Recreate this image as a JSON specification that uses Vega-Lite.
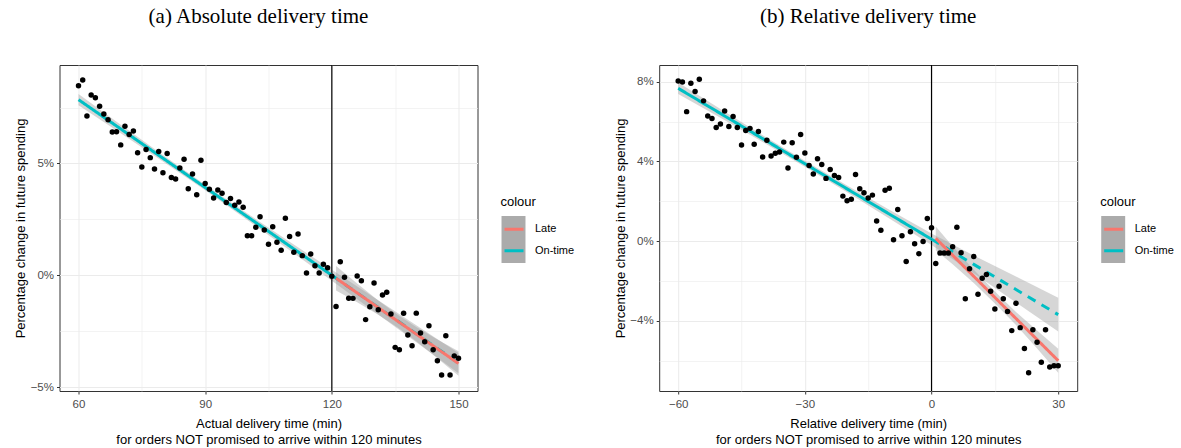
{
  "$schema": "https://vega.github.io/schema/vega-lite/v6.json",
  "padding": {"left": 13.5, "top": 5, "right": 0, "bottom": 0},
  "bounds": "flush",
  "spacing": 181.7,
  "datasets": {
    "ptsA": [
      {"x":60,"y":8.47},{"x":61,"y":8.73},{"x":62,"y":7.12},{"x":63,"y":8.06},{"x":64,"y":7.94},{"x":65,"y":7.56},{"x":66,"y":7.21},{"x":67,"y":6.95},{"x":68,"y":6.41},{"x":69,"y":6.42},
      {"x":70,"y":5.83},{"x":71,"y":6.66},{"x":72,"y":6.29},{"x":73,"y":6.45},{"x":74,"y":5.48},{"x":75,"y":4.84},{"x":76,"y":5.62},{"x":77,"y":5.26},{"x":78,"y":4.75},{"x":79,"y":5.53},
      {"x":80,"y":4.58},{"x":81,"y":5.44},{"x":82,"y":4.37},{"x":83,"y":4.31},{"x":84,"y":4.80},{"x":85,"y":5.19},{"x":86,"y":3.87},{"x":87,"y":4.53},{"x":88,"y":3.60},{"x":89,"y":5.14},
      {"x":90,"y":4.10},{"x":91,"y":3.85},{"x":92,"y":3.46},{"x":93,"y":3.81},{"x":94,"y":3.67},{"x":95,"y":3.25},{"x":96,"y":3.43},{"x":97,"y":3.13},{"x":98,"y":3.28},{"x":99,"y":3.04},
      {"x":100,"y":1.77},{"x":101,"y":1.77},{"x":102,"y":2.15},{"x":103,"y":2.62},{"x":104,"y":2.03},{"x":105,"y":1.39},{"x":106,"y":2.17},{"x":107,"y":1.48},{"x":108,"y":1.12},{"x":109,"y":2.55},
      {"x":110,"y":1.74},{"x":111,"y":1.03},{"x":112,"y":1.85},{"x":113,"y":0.88},{"x":114,"y":0.10},{"x":115,"y":0.95},{"x":116,"y":0.43},{"x":117,"y":0.10},{"x":118,"y":0.49},{"x":119,"y":0.34},
      {"x":120,"y":-0.04},{"x":121,"y":-1.39},{"x":122,"y":0.61},{"x":123,"y":-0.09},{"x":124,"y":-1.02},{"x":125,"y":-1.03},{"x":126,"y":-0.03},{"x":127,"y":-0.24},{"x":128,"y":-1.98},{"x":129,"y":-1.40},
      {"x":130,"y":-0.34},{"x":131,"y":-1.54},{"x":132,"y":-0.88},{"x":133,"y":-0.76},{"x":134,"y":-1.73},{"x":135,"y":-3.22},{"x":136,"y":-3.33},{"x":137,"y":-1.70},{"x":138,"y":-2.67},{"x":139,"y":-3.15},
      {"x":140,"y":-1.69},{"x":141,"y":-2.58},{"x":142,"y":-2.97},{"x":143,"y":-2.25},{"x":144,"y":-3.33},{"x":145,"y":-3.82},{"x":146,"y":-4.45},{"x":147,"y":-2.70},{"x":148,"y":-4.45},{"x":149,"y":-3.60},
      {"x":150,"y":-3.71}
    ],
    "fitsA": [
      {"x":60,"c":7.85,"lo":7.60,"hi":8.10,"fit":"On-time","type":"solid","grp":"on"},
      {"x":70,"c":6.542,"lo":6.352,"hi":6.732,"fit":"On-time","type":"solid","grp":"on"},
      {"x":80,"c":5.234,"lo":5.089,"hi":5.379,"fit":"On-time","type":"solid","grp":"on"},
      {"x":90,"c":3.926,"lo":3.799,"hi":4.053,"fit":"On-time","type":"solid","grp":"on"},
      {"x":100,"c":2.618,"lo":2.473,"hi":2.763,"fit":"On-time","type":"solid","grp":"on"},
      {"x":110,"c":1.31,"lo":1.12,"hi":1.50,"fit":"On-time","type":"solid","grp":"on"},
      {"x":120,"c":0.002,"lo":-0.248,"hi":0.252,"fit":"On-time","type":"solid","grp":"on"},
      {"x":120,"c":0.002,"lo":-0.248,"hi":0.252,"fit":"On-time","type":"dashed","grp":"ext"},
      {"x":130,"c":-1.306,"lo":-1.616,"hi":-0.996,"fit":"On-time","type":"dashed","grp":"ext"},
      {"x":140,"c":-2.614,"lo":-2.994,"hi":-2.234,"fit":"On-time","type":"dashed","grp":"ext"},
      {"x":150,"c":-3.922,"lo":-4.372,"hi":-3.472,"fit":"On-time","type":"dashed","grp":"ext"},
      {"x":121,"c":-0.13,"lo":-0.68,"hi":0.42,"fit":"Late","type":"solid","grp":"late"},
      {"x":126,"c":-0.787,"lo":-1.207,"hi":-0.367,"fit":"Late","type":"solid","grp":"late"},
      {"x":131,"c":-1.444,"lo":-1.764,"hi":-1.124,"fit":"Late","type":"solid","grp":"late"},
      {"x":135.5,"c":-2.036,"lo":-2.316,"hi":-1.756,"fit":"Late","type":"solid","grp":"late"},
      {"x":140,"c":-2.627,"lo":-2.947,"hi":-2.307,"fit":"Late","type":"solid","grp":"late"},
      {"x":145,"c":-3.284,"lo":-3.704,"hi":-2.864,"fit":"Late","type":"solid","grp":"late"},
      {"x":150,"c":-3.94,"lo":-4.49,"hi":-3.39,"fit":"Late","type":"solid","grp":"late"}
    ],
    "ptsB": [
      {"x":-60,"y":8.04},{"x":-59,"y":7.99},{"x":-58,"y":6.50},{"x":-57,"y":7.92},{"x":-56,"y":7.51},{"x":-55,"y":8.13},{"x":-54,"y":7.04},{"x":-53,"y":6.28},{"x":-52,"y":6.15},{"x":-51,"y":5.70},
      {"x":-50,"y":5.88},{"x":-49,"y":6.53},{"x":-48,"y":5.75},{"x":-47,"y":6.25},{"x":-46,"y":5.70},{"x":-45,"y":4.82},{"x":-44,"y":5.55},{"x":-43,"y":5.66},{"x":-42,"y":4.86},{"x":-41,"y":5.50},
      {"x":-40,"y":4.22},{"x":-39,"y":5.06},{"x":-38,"y":4.27},{"x":-37,"y":4.41},{"x":-36,"y":4.47},{"x":-35,"y":4.97},{"x":-34,"y":3.67},{"x":-33,"y":4.94},{"x":-32,"y":4.21},{"x":-31,"y":5.35},
      {"x":-30,"y":4.42},{"x":-29,"y":3.80},{"x":-28,"y":3.37},{"x":-27,"y":4.14},{"x":-26,"y":3.85},{"x":-25,"y":3.15},{"x":-24,"y":3.60},{"x":-23,"y":3.30},{"x":-22,"y":3.19},{"x":-21,"y":2.26},
      {"x":-20,"y":2.03},{"x":-19,"y":2.10},{"x":-18,"y":3.34},{"x":-17,"y":2.63},{"x":-16,"y":2.43},{"x":-15,"y":2.16},{"x":-14,"y":2.31},{"x":-13,"y":1.01},{"x":-12,"y":0.55},{"x":-11,"y":2.55},
      {"x":-10,"y":2.66},{"x":-9,"y":0.07},{"x":-8,"y":1.59},{"x":-7,"y":0.27},{"x":-6,"y":-1.02},{"x":-5,"y":0.47},{"x":-4,"y":-0.13},{"x":-3,"y":-0.63},{"x":-2,"y":-0.02},{"x":-1,"y":1.14},
      {"x":0,"y":0.67},{"x":1,"y":-1.12},{"x":2,"y":-0.60},{"x":3,"y":-0.60},{"x":4,"y":-0.60},{"x":5,"y":-0.28},{"x":6,"y":0.70},{"x":7,"y":-0.58},{"x":8,"y":-2.89},{"x":9,"y":-1.39},
      {"x":10,"y":-0.77},{"x":11,"y":-2.66},{"x":12,"y":-1.86},{"x":13,"y":-1.67},{"x":14,"y":-2.51},{"x":15,"y":-3.40},{"x":16,"y":-2.26},{"x":17,"y":-2.89},{"x":18,"y":-3.53},{"x":19,"y":-4.49},
      {"x":20,"y":-3.12},{"x":21,"y":-4.34},{"x":22,"y":-5.39},{"x":23,"y":-6.60},{"x":24,"y":-4.45},{"x":25,"y":-5.07},{"x":26,"y":-6.08},{"x":27,"y":-4.45},{"x":28,"y":-6.31},{"x":29,"y":-6.25},
      {"x":30,"y":-6.25}
    ],
    "fitsB": [
      {"x":-60,"c":7.67,"lo":7.38,"hi":7.96,"fit":"On-time","type":"solid","grp":"on"},
      {"x":-50,"c":6.408,"lo":6.188,"hi":6.628,"fit":"On-time","type":"solid","grp":"on"},
      {"x":-40,"c":5.146,"lo":4.976,"hi":5.316,"fit":"On-time","type":"solid","grp":"on"},
      {"x":-30,"c":3.884,"lo":3.734,"hi":4.034,"fit":"On-time","type":"solid","grp":"on"},
      {"x":-20,"c":2.622,"lo":2.452,"hi":2.792,"fit":"On-time","type":"solid","grp":"on"},
      {"x":-10,"c":1.36,"lo":1.14,"hi":1.58,"fit":"On-time","type":"solid","grp":"on"},
      {"x":0,"c":0.098,"lo":-0.192,"hi":0.388,"fit":"On-time","type":"solid","grp":"on"},
      {"x":0,"c":0.098,"lo":-0.192,"hi":0.388,"fit":"On-time","type":"dashed","grp":"ext"},
      {"x":10,"c":-1.164,"lo":-1.614,"hi":-0.714,"fit":"On-time","type":"dashed","grp":"ext"},
      {"x":20,"c":-2.426,"lo":-3.076,"hi":-1.776,"fit":"On-time","type":"dashed","grp":"ext"},
      {"x":30,"c":-3.688,"lo":-4.538,"hi":-2.838,"fit":"On-time","type":"dashed","grp":"ext"},
      {"x":1,"c":0.14,"lo":-0.46,"hi":0.74,"fit":"Late","type":"solid","grp":"late"},
      {"x":5,"c":-0.707,"lo":-1.157,"hi":-0.257,"fit":"Late","type":"solid","grp":"late"},
      {"x":10,"c":-1.765,"lo":-2.095,"hi":-1.435,"fit":"Late","type":"solid","grp":"late"},
      {"x":15.5,"c":-2.93,"lo":-3.23,"hi":-2.63,"fit":"Late","type":"solid","grp":"late"},
      {"x":20,"c":-3.882,"lo":-4.212,"hi":-3.552,"fit":"Late","type":"solid","grp":"late"},
      {"x":25,"c":-4.94,"lo":-5.39,"hi":-4.49,"fit":"Late","type":"solid","grp":"late"},
      {"x":30,"c":-5.999,"lo":-6.599,"hi":-5.399,"fit":"Late","type":"solid","grp":"late"}
    ]
  },
  "hconcat": [
    {
      "width": 418,
      "height": 326,
      "title": {"text": "(a) Absolute delivery time", "font": "Liberation Serif", "fontSize": 21, "fontWeight": "normal", "color": "black", "offset": 37, "dx": -10},
      "layer": [
        {
          "data": {"values": []},
          "mark": {"type": "square", "opacity": 1},
          "encoding": {
            "fill": {"datum": "se", "scale": {"domain": ["se"], "range": ["#ABABAB"]},
              "legend": {"title": null, "orient": "none", "legendX": 430.5, "legendY": 151, "symbolType": "M-0.51,-1H0.51V1H-0.51Z", "symbolSize": 2209, "symbolOffset": 0, "labelExpr": "''", "symbolStrokeWidth": 0, "symbolOpacity": 1}}
          }
        },
        {
          "data": {"name": "fitsA"},
          "mark": {"type": "area", "fill": "#999999", "opacity": 0.4},
          "encoding": {
            "x": {"field": "x", "type": "quantitative", "title": ["Actual delivery time (min)", "for orders NOT promised to arrive within 120 minutes"],
              "scale": {"domain": [55.5, 154.5], "nice": false, "zero": false},
              "axis": {"values": [60, 75, 90, 105, 120, 135, 150],
                "labelExpr": "datum.value % 30 == 0 ? datum.label : ''",
                "tickOpacity": {"condition": {"test": "datum.value % 30 != 0", "value": 0}, "value": 1},
                "gridWidth": {"condition": {"test": "datum.value % 30 != 0", "value": 0.6}, "value": 1}}},
            "y": {"field": "lo", "type": "quantitative", "title": "Percentage change in future spending",
              "scale": {"domain": [-5.17, 9.40], "nice": false, "zero": false},
              "axis": {"values": [-5, -2.5, 0, 2.5, 5, 7.5],
                "labelExpr": "datum.value % 5 == 0 ? format(datum.value, 'd') + '%' : ''",
                "tickOpacity": {"condition": {"test": "datum.value % 5 != 0", "value": 0}, "value": 1},
                "gridWidth": {"condition": {"test": "datum.value % 5 != 0", "value": 0.6}, "value": 1}}},
            "y2": {"field": "hi"},
            "detail": {"field": "grp"}
          }
        },
        {
          "data": {"values": [{"x": 120}]},
          "mark": {"type": "rule", "color": "black", "strokeWidth": 1.2},
          "encoding": {"x": {"field": "x", "type": "quantitative", "title": ["Actual delivery time (min)", "for orders NOT promised to arrive within 120 minutes"]}}
        },
        {
          "data": {"name": "fitsA"},
          "mark": {"type": "line", "strokeWidth": 3},
          "encoding": {
            "x": {"field": "x", "type": "quantitative", "title": ["Actual delivery time (min)", "for orders NOT promised to arrive within 120 minutes"]},
            "y": {"field": "c", "type": "quantitative", "title": "Percentage change in future spending"},
            "stroke": {"field": "fit", "type": "nominal", "scale": {"domain": ["Late", "On-time"], "range": ["#F8766D", "#00BFC4"]},
              "legend": {"title": "colour", "orient": "none", "legendX": 441, "legendY": 131, "titlePadding": 9.25, "rowPadding": 4.5}},
            "strokeDash": {"field": "type", "type": "nominal", "scale": {"domain": ["solid", "dashed"], "range": [[1, 0], [9, 7]]}, "legend": null},
            "detail": {"field": "grp"}
          }
        },
        {
          "data": {"name": "ptsA"},
          "mark": {"type": "circle", "color": "black", "opacity": 1, "size": 30},
          "encoding": {
            "x": {"field": "x", "type": "quantitative", "title": ["Actual delivery time (min)", "for orders NOT promised to arrive within 120 minutes"]},
            "y": {"field": "y", "type": "quantitative", "title": "Percentage change in future spending"}
          }
        }
      ]
    },
    {
      "width": 418,
      "height": 326,
      "title": {"text": "(b) Relative delivery time", "font": "Liberation Serif", "fontSize": 21, "fontWeight": "normal", "color": "black", "offset": 37, "dx": 0},
      "layer": [
        {
          "data": {"values": []},
          "mark": {"type": "square", "opacity": 1},
          "encoding": {
            "fill": {"datum": "se", "scale": {"domain": ["se"], "range": ["#ABABAB"]},
              "legend": {"title": null, "orient": "none", "legendX": 430.5, "legendY": 151, "symbolType": "M-0.51,-1H0.51V1H-0.51Z", "symbolSize": 2209, "symbolOffset": 0, "labelExpr": "''", "symbolStrokeWidth": 0, "symbolOpacity": 1}}
          }
        },
        {
          "data": {"name": "fitsB"},
          "mark": {"type": "area", "fill": "#999999", "opacity": 0.4},
          "encoding": {
            "x": {"field": "x", "type": "quantitative", "title": ["Relative delivery time (min)", "for orders NOT promised to arrive within 120 minutes"],
              "scale": {"domain": [-64.5, 34.5], "nice": false, "zero": false},
              "axis": {"values": [-60, -45, -30, -15, 0, 15, 30],
                "labelExpr": "datum.value % 30 == 0 ? datum.label : ''",
                "tickOpacity": {"condition": {"test": "datum.value % 30 != 0", "value": 0}, "value": 1},
                "gridWidth": {"condition": {"test": "datum.value % 30 != 0", "value": 0.6}, "value": 1}}},
            "y": {"field": "lo", "type": "quantitative", "title": "Percentage change in future spending",
              "scale": {"domain": [-7.52, 8.84], "nice": false, "zero": false},
              "axis": {"values": [-6, -4, -2, 0, 2, 4, 6, 8],
                "labelExpr": "datum.value % 4 == 0 ? format(datum.value, 'd') + '%' : ''",
                "tickOpacity": {"condition": {"test": "datum.value % 4 != 0", "value": 0}, "value": 1},
                "gridWidth": {"condition": {"test": "datum.value % 4 != 0", "value": 0.6}, "value": 1}}},
            "y2": {"field": "hi"},
            "detail": {"field": "grp"}
          }
        },
        {
          "data": {"values": [{"x": 0}]},
          "mark": {"type": "rule", "color": "black", "strokeWidth": 1.2},
          "encoding": {"x": {"field": "x", "type": "quantitative", "title": ["Relative delivery time (min)", "for orders NOT promised to arrive within 120 minutes"]}}
        },
        {
          "data": {"name": "fitsB"},
          "mark": {"type": "line", "strokeWidth": 3},
          "encoding": {
            "x": {"field": "x", "type": "quantitative", "title": ["Relative delivery time (min)", "for orders NOT promised to arrive within 120 minutes"]},
            "y": {"field": "c", "type": "quantitative", "title": "Percentage change in future spending"},
            "stroke": {"field": "fit", "type": "nominal", "scale": {"domain": ["Late", "On-time"], "range": ["#F8766D", "#00BFC4"]},
              "legend": {"title": "colour", "orient": "none", "legendX": 441, "legendY": 131, "titlePadding": 9.25, "rowPadding": 4.5}},
            "strokeDash": {"field": "type", "type": "nominal", "scale": {"domain": ["solid", "dashed"], "range": [[1, 0], [9, 7]]}, "legend": null},
            "detail": {"field": "grp"}
          }
        },
        {
          "data": {"name": "ptsB"},
          "mark": {"type": "circle", "color": "black", "opacity": 1, "size": 30},
          "encoding": {
            "x": {"field": "x", "type": "quantitative", "title": ["Relative delivery time (min)", "for orders NOT promised to arrive within 120 minutes"]},
            "y": {"field": "y", "type": "quantitative", "title": "Percentage change in future spending"}
          }
        }
      ]
    }
  ],
  "resolve": {"scale": {"fill": "independent", "stroke": "independent", "strokeDash": "independent"}, "legend": {"fill": "independent", "stroke": "independent"}},
  "config": {
    "font": "Liberation Sans",
    "view": {"stroke": "#333333", "strokeWidth": 1},
    "axis": {"domain": false, "tickColor": "#333333", "tickSize": 3, "tickWidth": 1, "labelColor": "#4D4D4D", "labelFontSize": 11.5, "labelFont": "Liberation Sans",
      "titleFont": "Liberation Sans", "titleFontSize": 13, "titleFontWeight": "normal", "titleColor": "black", "gridColor": "#EBEBEB",
      "labelPadding": 2, "labelFlush": false, "labelOverlap": false, "labelBound": false},
    "axisX": {"labelPadding": 4, "titlePadding": 8, "titleLineHeight": 15.5},
    "axisY": {"titleX": -32, "labelPadding": 3},
    "legend": {"titleFont": "Liberation Sans", "titleFontSize": 13, "titleFontWeight": "normal", "titleColor": "black",
      "labelFont": "Liberation Sans", "labelFontSize": 11, "labelColor": "black",
      "symbolSize": 361, "symbolStrokeWidth": 3, "symbolOffset": 2.5, "labelOffset": 10}
  }
}
